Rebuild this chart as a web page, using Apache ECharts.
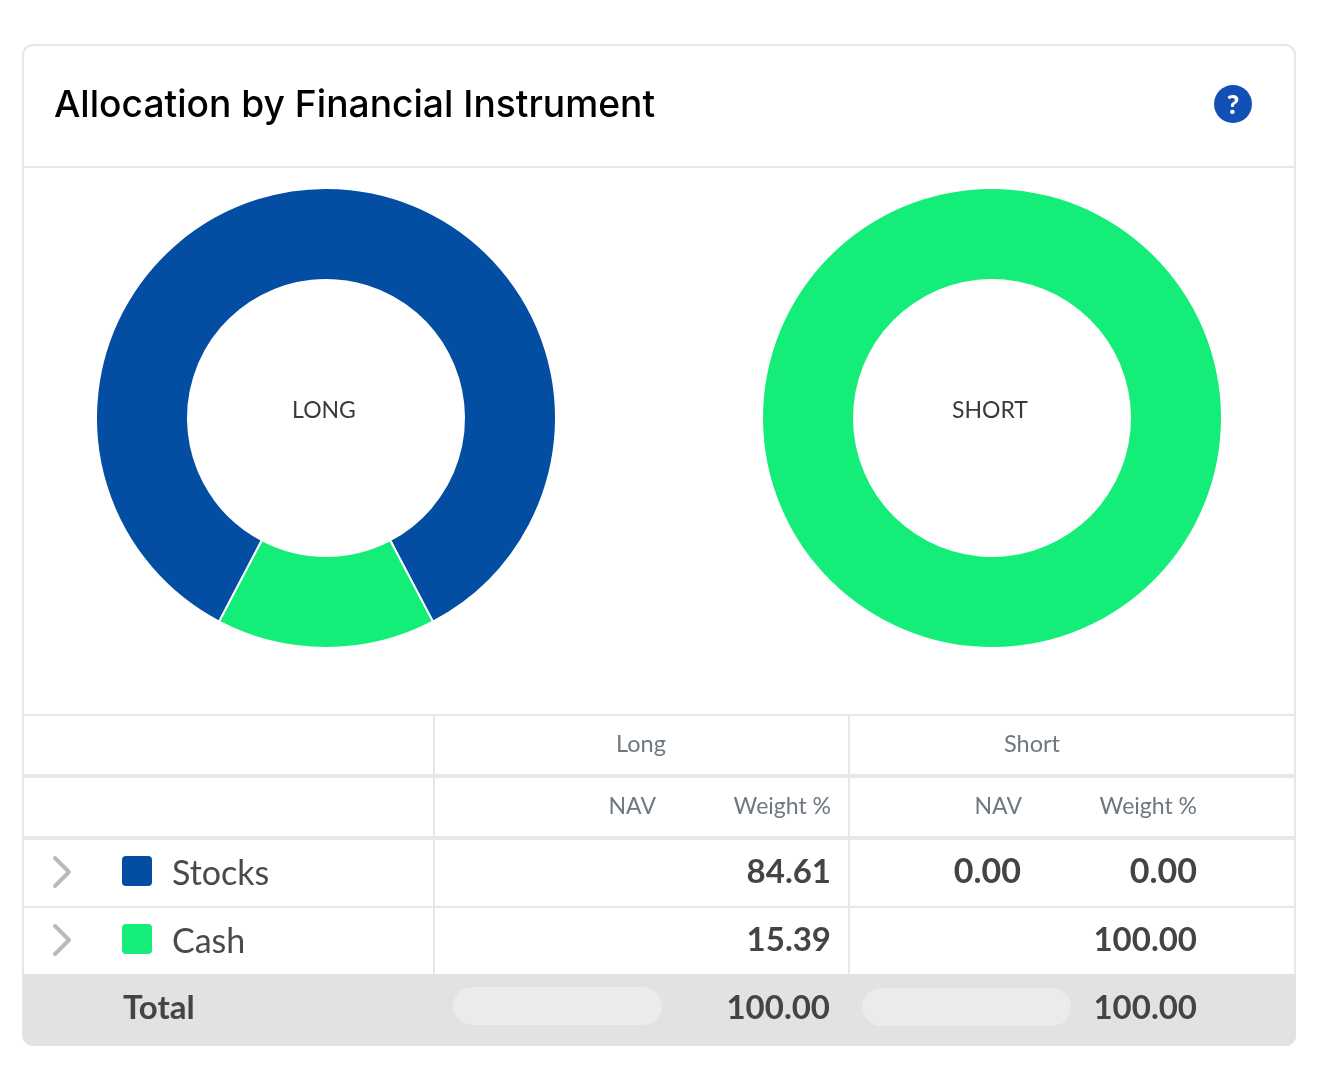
<!DOCTYPE html>
<html><head><meta charset="utf-8">
<style>html,body{margin:0;padding:0;background:#fff}#c{width:1338px;height:1085px}</style>
<script src="https://cdn.jsdelivr.net/npm/echarts@6/dist/echarts.min.js"></script>
</head><body><div id="c"></div>
<script>
const titleText = 'Allocation by Financial Instrument';
const categories = ['Stocks', 'Cash'];
const longWeights = [84.61, 15.39];
const shortWeights = [0, 100];
const longWeightLabels = ['84.61', '15.39'];
const shortNavLabels = ['0.00', ''];
const shortWeightLabels = ['0.00', '100.00'];
const totalLabels = ['100.00', '100.00'];
const colors = ['#034ea2', '#14ee78'];

const FONT = 'Lato, "Open Sans", sans-serif';
const BORDER = '#e7e7e7';
const g = [];
const rect = (x, y, w, h, fill, r, z) => g.push({type:'rect', z:z||1, shape:{x,y,width:w,height:h,r:r||0}, style:{fill}});
const text = (x, y, t, size, fill, align, weight, family) => g.push({type:'text', z:5, x, y, style:{text:t, font:`${weight||400} ${size}px ${family||FONT}`, fill, align:align||'left', verticalAlign:'middle'}});

// card
g.push({type:'rect', z:0, shape:{x:23,y:45,width:1272,height:1000,r:10}, style:{fill:'#fff',stroke:BORDER,lineWidth:2}});
// total band
g.push({type:'rect', z:1, shape:{x:23,y:974,width:1273,height:72,r:[0,0,10,10]}, style:{fill:'#e1e2e4'}});
// horizontal rules
rect(24,166,1270,2,BORDER);
rect(24,714,1270,2,BORDER);
rect(24,774,1270,4,BORDER);
rect(24,836,1270,4,BORDER);
rect(24,906,1270,2,BORDER);
// vertical rules
[433,848].forEach(x => { rect(x,715,2,259,BORDER); rect(x,974,2,70,'#dfe0e2'); });
// placeholders
rect(453,987,209,38,'#ebebeb',19,2);
rect(862,988,209,38,'#ebebeb',19,2);

text(54,106,titleText,37.2,'#000','left',500,'Inter, Lato, sans-serif');
g.push({type:'circle', z:3, shape:{cx:1233,cy:104,r:19}, style:{fill:'#1350b5'}});
text(1233,105,'?',27,'#fff','center',900);

text(324,411,'LONG',23,'#3a3a3a','center');
text(990,411,'SHORT',23,'#3a3a3a','center');

text(641,744,'Long',23.5,'#6f7780','center');
text(1032,744,'Short',23.5,'#6f7780','center');
[[656,'NAV'],[831,'Weight %'],[1022,'NAV'],[1197,'Weight %']].forEach(a => text(a[0],807,a[1],23,'#6f7780','right'));

const rowY = [872, 940];
categories.forEach((c,i) => {
  const y = rowY[i];
  g.push({type:'polyline', z:3, shape:{points:[[55,y-14],[69,y],[55,y+14]]}, style:{stroke:'#b9babc',lineWidth:4,fill:null,lineCap:'round',lineJoin:'round'}});
  rect(122,y-16,30,30,colors[i],4,3);
  text(172,y+2,c,34,'#4a4a4a','left');
  text(831,y,longWeightLabels[i],33,'#444','right',700);
  if (shortNavLabels[i]) text(1021,y,shortNavLabels[i],34,'#444','right',700);
  text(1197,y,shortWeightLabels[i],i===0?34:33,'#444','right',700);
});
text(123,1008,'Total',33,'#444','left',700);
text(830,1008,totalLabels[0],33,'#444','right',700);
text(1197,1008,totalLabels[1],33,'#444','right',700);

const pieSeries = (name, cx, values, inner, outer, bw) => ({
  type:'pie', name, z:4, center:[cx,418], radius:[inner,outer], startAngle:242.3, clockwise:true,
  silent:true, animation:false, label:{show:false}, labelLine:{show:false},
  minShowLabelAngle:360, stillShowZeroSum:false,
  itemStyle:{borderColor:'#fff', borderWidth:bw},
  data:categories.map((c,i)=>({name:c,value:values[i],itemStyle:{color:colors[i]}}))
});

const chart = echarts.init(document.getElementById('c'), null, {width:1338,height:1085});
chart.setOption({
  animation:false,
  backgroundColor:'#fff',
  series:[pieSeries('Long',326,longWeights,138,230,2), pieSeries('Short',992,shortWeights,139,229,0)],
  graphic:{elements:g}
});
</script></body></html>
